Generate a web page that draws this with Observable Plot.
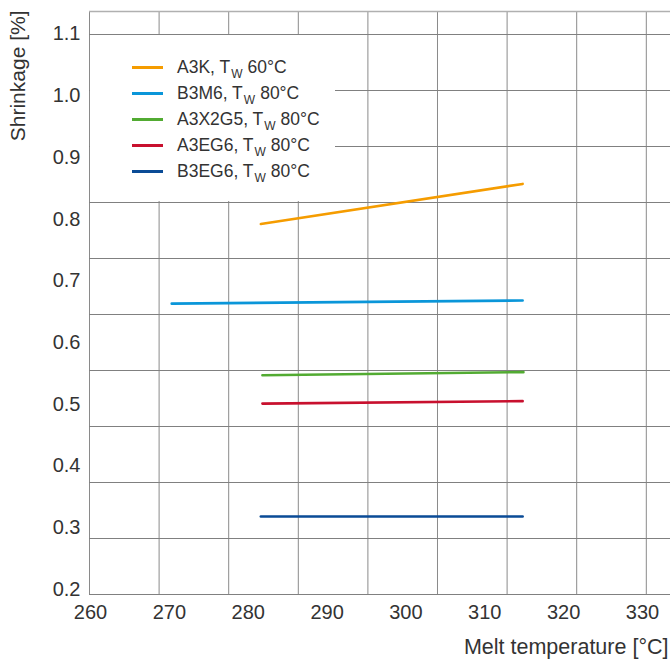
<!DOCTYPE html>
<html>
<head>
<meta charset="utf-8">
<script src="https://cdn.jsdelivr.net/npm/d3@7"></script>
<script src="https://cdn.jsdelivr.net/npm/@observablehq/plot@0.6"></script>
<style>
  html, body { margin: 0; padding: 0; background: #fff; }
  #wrap { position: relative; width: 671px; height: 661px; font-family: "Liberation Sans", Arial, sans-serif; }
  #legendBox { position: absolute; left: 90px; top: 35px; width: 245px; height: 166px; background: #fff; }
  .lg { position: absolute; left: 0; height: 20px; display: flex; align-items: center; font-size: 17.5px; color: #333; white-space: nowrap; }
  .lg .sw { display: inline-block; width: 31px; height: 3px; margin-left: 42px; margin-right: 14px; }
  .lg sub { font-size: 12px; vertical-align: -5px; line-height: 0; margin-left: 1px; margin-right: 5px; }
</style>
</head>
<body>
<div id="wrap"></div>
<script>
// ---- data ----
const series = ["A3K", "B3M6", "A3X2G5", "A3EG6", "B3EG6"];
const moldTemp = [60, 80, 80, 80, 80];
const colors = ["#f59c00", "#0a96d9", "#52ab32", "#c8102e", "#0a4b96"];
const xStart = [281.6, 270.3, 281.8, 281.8, 281.6];
const xEnd = [314.8, 314.8, 314.9, 314.8, 314.8];
const yStart = [0.792, 0.663, 0.547, 0.501, 0.318];
const yEnd = [0.857, 0.668, 0.552, 0.505, 0.318];
const xTicks = [260, 270, 280, 290, 300, 310, 320, 330];
const yTicks = [0.2, 0.3, 0.4, 0.5, 0.6, 0.7, 0.8, 0.9, 1.0, 1.1];

// ---- derived table ----
const rows = [];
series.forEach((s, i) => {
  rows.push({series: s, x: xStart[i], y: yStart[i]});
  rows.push({series: s, x: xEnd[i], y: yEnd[i]});
});

const xDomain = [259.873, 333.55];
const yDomain = [0.19157, 1.13647];
// background grid (independent of the tick labels, as in the original)
const gridX = d3.range(9).map(k => xDomain[0] + 8.826 * k);
const gridY = d3.range(11).map(k => 1.09919 - 0.090762 * k);

const chart = Plot.plot({
  width: 671,
  height: 661,
  marginLeft: 89,
  marginRight: 1,
  marginTop: 11,
  marginBottom: 67,
  style: {fontFamily: "Liberation Sans, Arial, sans-serif", color: "#333", background: "#fff"},
  x: {domain: xDomain},
  y: {domain: yDomain},
  color: {domain: series, range: colors},
  marks: [
    Plot.ruleX(gridX, {stroke: "#8a8a8a", strokeWidth: 1}),
    Plot.ruleY(gridY, {stroke: "#808080", strokeWidth: 1}),
    Plot.ruleY([yDomain[1]], {stroke: "#b0b0b0", strokeWidth: 1.5}),
    Plot.axisX({ticks: xTicks, tickSize: 0, tickPadding: 10, fontSize: 20, label: null, tickFormat: d => String(d)}),
    Plot.axisY({ticks: yTicks, tickSize: 0, tickPadding: 9, fontSize: 20, label: null, tickFormat: d3.format(".1f")}),
    Plot.line(rows, {x: "x", y: "y", z: "series", stroke: "series", strokeWidth: 2.6}),
    Plot.text(["Melt temperature [°C]"], {text: d => d, frameAnchor: "bottom-right", textAnchor: "end", lineAnchor: "middle", dx: -2, dy: 53, fontSize: 21.5, fill: "#333"}),
    Plot.text(["Shrinkage [%]"], {text: d => d, frameAnchor: "top-left", textAnchor: "end", lineAnchor: "middle", rotate: -90, dx: -71, dy: -1, fontSize: 21, fill: "#333"})
  ]
});

const wrap = document.getElementById("wrap");
wrap.appendChild(chart);

const box = document.createElement("div");
box.id = "legendBox";
wrap.appendChild(box);
series.forEach((s, i) => {
  const row = document.createElement("div");
  row.className = "lg";
  row.style.top = (22 + 26 * i) + "px";
  row.style.left = "0px";
  const sw = document.createElement("span");
  sw.className = "sw";
  sw.style.background = colors[i];
  row.appendChild(sw);
  const t = document.createElement("span");
  t.innerHTML = `${s}, T<sub>W</sub>${moldTemp[i]}\u00b0C`;
  row.appendChild(t);
  box.appendChild(row);
});
</script>
</body>
</html>
